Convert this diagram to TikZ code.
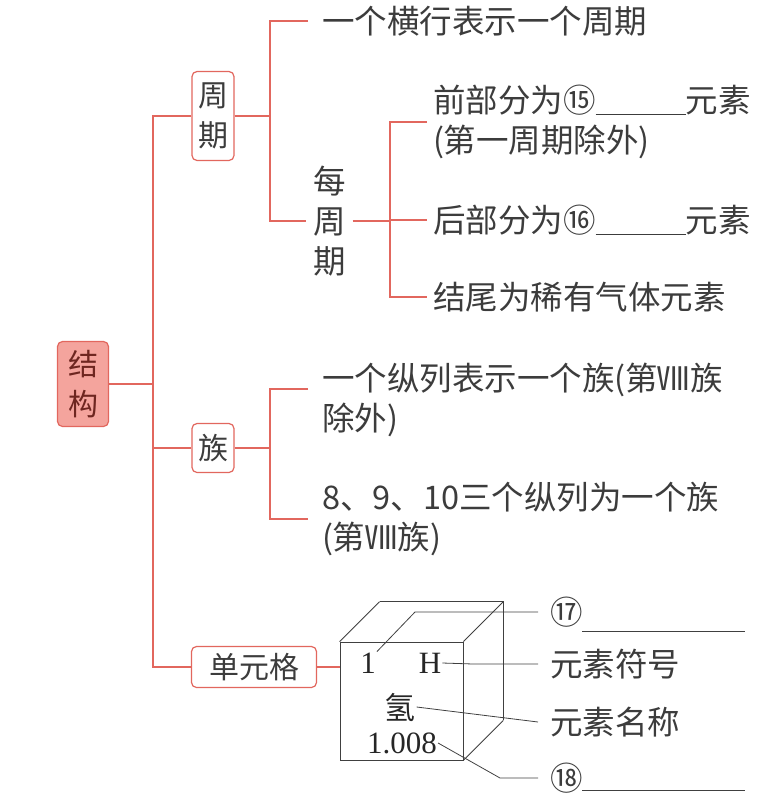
\documentclass[tikz,border=0pt]{standalone}
\usepackage{fontspec}
\setmainfont{Noto Sans CJK SC}
\newfontfamily\cellfont{Liberation Serif}
\usetikzlibrary{positioning}

\definecolor{mapred}{HTML}{E2675E}
\definecolor{rootpink}{HTML}{F4A49D}
\definecolor{rootink}{HTML}{6E2620}
\definecolor{inkgray}{HTML}{3C3C3C}

\tikzset{
    branch/.style={draw=mapred, line width=1.3pt},
    box/.style={draw=mapred, line width=1.2pt, rounded corners=5pt, fill=white,
        text=inkgray, inner sep=0pt, align=center, font=\fontsize{30}{40}\selectfont},
    rootbox/.style={box, fill=rootpink, text=rootink},
    leaf/.style={anchor=west, inner sep=0pt, outer xsep=14pt, align=left,
        text=inkgray, font=\fontsize{32.5}{40}\selectfont},
    subleaf/.style={leaf, outer xsep=6pt},
    cubeline/.style={draw=black!75, line width=0.8pt},
    leader/.style={draw=black!75, line width=0.8pt},
    celltext/.style={inner sep=1pt, text=black!85, font=\cellfont\fontsize{31}{31}\selectfont},
    tag/.style={anchor=west, inner sep=0pt, outer xsep=12pt, text=inkgray,
        font=\fontsize{32.5}{40}\selectfont},
}

\begin{document}
\begin{tikzpicture}[x=1pt, y=-1pt]
    \useasboundingbox (0,0) rectangle (762,809);

    % main boxes
    \node[rootbox, minimum width=51pt, minimum height=85pt] (jiegou) at (83,384) {结\\构};
    \node[box, minimum width=42pt, minimum height=89pt] (zhouqi) at (213,116) {周\\期};
    \node[box, minimum width=42pt, minimum height=49pt] (zu) at (213,448) {族};
    \node[box, minimum width=125pt, minimum height=41pt] (danyuange) at (254,667) {单元格};

    \coordinate (spine) at (153,384);
    \coordinate (pfork) at (270,116);
    \coordinate (mfork) at (390,220);
    \coordinate (zfork) at (270,448);

    % 周期
    \node[leaf] (hengxing) at (308,21) {一个横行表示一个周期};
    \node[leaf, outer xsep=7pt] (meizhouqi) at (306,221) {每\\周\\期};
    \node[subleaf] (qianbu) at (427,122) {前部分为⑮\underline{\hspace{90pt}}元素\\(第一周期除外)};
    \node[subleaf] (houbu) at (427,220) {后部分为⑯\underline{\hspace{90pt}}元素};
    \node[subleaf] (jiewei) at (427,297) {结尾为稀有气体元素};

    % 族
    \node[leaf] (zonglie) at (308,400) {一个纵列表示一个族(第Ⅷ族\\除外)};
    \node[leaf] (sanlie) at (308,519) {8、9、10三个纵列为一个族\\(第Ⅷ族)};

    % 单元格
    \node[cubeline, minimum width=123pt, minimum height=118pt, inner sep=0pt] (cell) at (401.5,701) {};
    \foreach \c/\n in {north west/bnw, north east/bne, south east/bse}
        \draw[cubeline] (cell.\c) -- ++(40,-40) coordinate (\n);
    \draw[cubeline] (bnw) -- (bne) -- (bse);

    \node[celltext] (anum) at (368,663) {1};
    \node[celltext] (symbol) at (430,663) {H};
    \node[celltext, font=\fontsize{31}{31}\selectfont] (ename) at (400,707) {氢};
    \node[celltext] (amass) at (402,743) {1.008};

    \node[tag] (tag17) at (538,612) {⑰};
    \node[tag] (tagsym) at (538,664) {元素符号};
    \node[tag] (tagname) at (538,722) {元素名称};
    \node[tag] (tag18) at (538,778) {⑱};

    % connectors
    \draw[branch] (jiegou.east) -- (spine);
    \draw[branch] (zhouqi.west) -| (spine) |- (danyuange.west);
    \draw[branch] (zu.west) -- (zu.west -| spine);
    \draw[branch] (zhouqi.east) -- (pfork);
    \draw[branch] (hengxing.west) -| (pfork) |- (meizhouqi.west);
    \draw[branch] (meizhouqi.east) -- (meizhouqi.east -| mfork);
    \draw[branch] (qianbu.west) -| (mfork) |- (jiewei.west);
    \draw[branch] (mfork) -- (houbu.west);
    \draw[branch] (zu.east) -- (zfork);
    \draw[branch] ([yshift=11pt]zonglie.west) -| (zfork) |- (sanlie.west);
    \draw[branch] (danyuange.east) -- (danyuange.east -| cell.west);

    \draw[leader] (anum.north east) -- (415,612) -- (tag17.west);
    \draw[leader] (symbol.east) -- (473,664) -- (tagsym.west);
    \draw[leader] (ename.east) -- (tagname.west);
    \draw[leader] (amass.east) -- (500,778) -- (tag18.west);
    % blanks
    \draw[leader] (582,631) -- (745,631);
    \draw[leader] (582,790) -- (745,790);
\end{tikzpicture}
\end{document}
